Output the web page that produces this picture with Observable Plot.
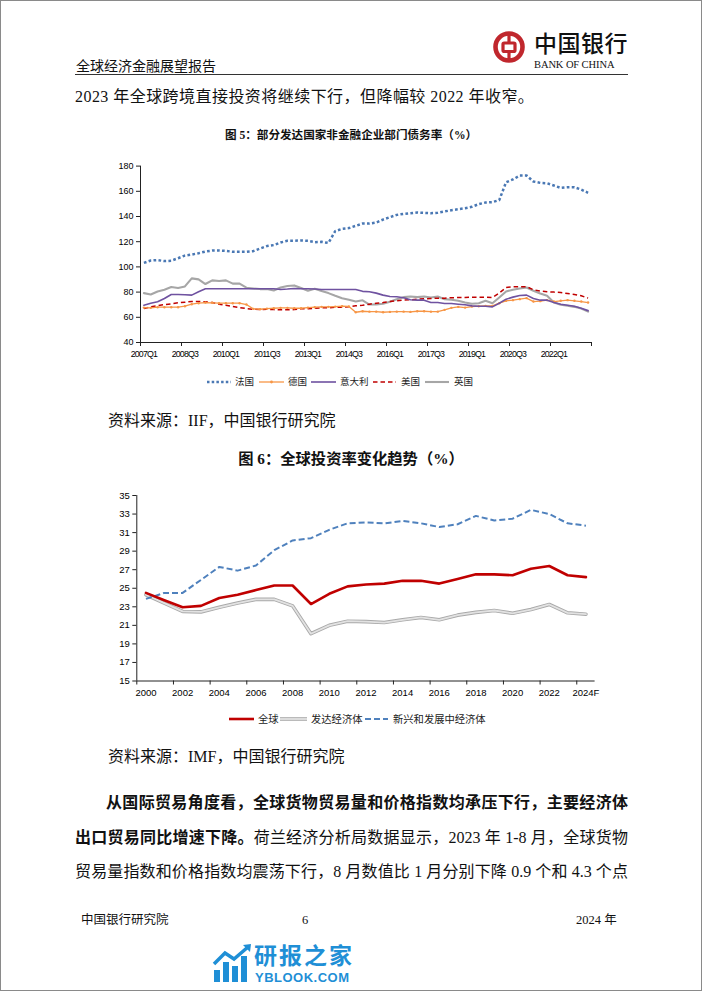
<!DOCTYPE html>
<html><head><meta charset="utf-8">
<script src="https://cdn.jsdelivr.net/npm/d3@7"></script>
<script src="https://cdn.jsdelivr.net/npm/@observablehq/plot@0.6"></script>
<style>
body{margin:0;background:#fff;}
#page{position:relative;width:702px;height:991px;overflow:hidden;background:#fff;font-family:"Liberation Serif","Noto Sans CJK SC",serif;color:#111;}
#frame{position:absolute;left:0;top:0;width:700px;height:989px;border:1px solid #8a8a8a;pointer-events:none;}
.t{position:absolute;white-space:nowrap;line-height:1;}
.just{position:absolute;white-space:nowrap;line-height:1;text-align:justify;text-align-last:justify;}
.chart{position:absolute;}
.leg{position:absolute;left:0;}
</style></head>
<body><div id="page">
<div class="t" style="left:76px;top:60px;font-size:14px;">全球经济金融展望报告</div>
<div style="position:absolute;left:75px;top:73.5px;width:553px;height:1.5px;background:#333;"></div>
<svg class="t" style="left:491px;top:29px;" width="36" height="36" viewBox="0 0 36 36">
  <circle cx="18" cy="18" r="13.5" fill="none" stroke="#c0272d" stroke-width="4.6"/>
  <rect x="12" y="14" width="12" height="8.5" rx="1.2" fill="none" stroke="#c0272d" stroke-width="3.2"/>
  <line x1="18" y1="4" x2="18" y2="14" stroke="#c0272d" stroke-width="3.2"/>
  <line x1="18" y1="22.5" x2="18" y2="32" stroke="#c0272d" stroke-width="3.2"/>
</svg>
<div class="t" style="left:534px;top:31px;font-size:23px;font-family:'Noto Sans CJK SC';font-weight:500;color:#111;letter-spacing:0.5px;">中国银行</div>
<div class="t" style="left:534px;top:60px;font-size:10.5px;letter-spacing:-0.1px;">BANK OF CHINA</div>
<div class="t" style="left:75px;top:89px;font-size:16px;letter-spacing:0.45px;">2023 年全球跨境直接投资将继续下行，但降幅较 2022 年收窄。</div>
<div class="t" id="title1" style="left:0;width:702px;text-align:center;top:130px;font-size:11.6px;font-weight:bold;">图 5：部分发达国家非金融企业部门债务率（%）</div>
<div class="chart" id="c1" style="left:100px;top:155px;"></div>
<svg class="leg" id="leg1" style="top:372px;" width="702" height="20"></svg>
<div class="t" style="left:108px;top:413px;font-size:16px;">资料来源：IIF，中国银行研究院</div>
<div class="t" style="left:0;width:702px;text-align:center;top:451px;font-size:15.3px;font-weight:bold;">图 6：全球投资率变化趋势（%）</div>
<div class="chart" id="c2" style="left:100px;top:485px;"></div>
<svg class="leg" id="leg2" style="top:709px;" width="702" height="20"></svg>
<div class="t" style="left:108px;top:749px;font-size:16px;">资料来源：IMF，中国银行研究院</div>
<div class="just" style="left:106px;width:522px;top:795px;font-size:16px;font-weight:bold;">从国际贸易角度看，全球货物贸易量和价格指数均承压下行，主要经济体</div>
<div class="just" style="left:75px;width:553px;top:830px;font-size:16px;"><b>出口贸易同比增速下降。</b>荷兰经济分析局数据显示，2023 年 1-8 月，全球货物</div>
<div class="just" style="left:75px;width:553px;top:864px;font-size:16px;">贸易量指数和价格指数均震荡下行，8 月数值比 1 月分别下降 0.9 个和 4.3 个点</div>
<div class="t" style="left:81px;top:914px;font-size:12.5px;">中国银行研究院</div>
<div class="t" style="left:302px;top:914px;font-size:12.5px;">6</div>
<div class="t" style="left:576px;top:914px;font-size:12.5px;">2024 年</div>
<svg class="t" style="left:212px;top:944px;" width="42" height="40" viewBox="0 0 42 40">
  <g fill="#1f8fd6">
    <rect x="2" y="26" width="6" height="12"/>
    <rect x="11" y="18" width="6" height="20"/>
    <rect x="20" y="22" width="6" height="16"/>
    <rect x="29" y="12" width="6" height="26"/>
  </g>
  <polyline points="2,20 13,9 22,15 36,3" fill="none" stroke="#1f8fd6" stroke-width="3.5"/>
  <polygon points="31,1 39,0 38,8" fill="#1f8fd6"/>
</svg>
<div class="t" style="left:254px;top:943px;font-size:23px;font-weight:bold;color:#1f8fd6;font-family:'Noto Sans CJK SC';letter-spacing:2px;">研报之家</div>
<div class="t" style="left:255px;top:971px;font-size:13px;font-weight:bold;color:#1f8fd6;font-family:'Liberation Sans';letter-spacing:0.5px;">YBLOOK.COM</div>
<div id="frame"></div>
</div>
<script>
// ---------- Chart 1 data: 2007Q1 .. 2023Q2 ----------
const quarters = [];
for (let y = 2007; y <= 2023; y++) for (let q = 1; q <= 4; q++) if (quarters.length < 66) quarters.push(y + "Q" + q);
const xTickLabels1 = ["2007Q1","2008Q3","2010Q1","2011Q3","2013Q1","2014Q3","2016Q1","2017Q3","2019Q1","2020Q3","2022Q1"];
const yTicks1 = [40,60,80,100,120,140,160,180];
const seriesNames1 = ["法国","德国","意大利","美国","英国"];
const france = [103.2,105.1,105.4,104.6,104.9,106.9,109,109.8,110.9,112.2,
  113,113,112.7,112,112,112,112.5,114.6,116.5,117.3,
  119.4,120.7,120.7,121,120.7,119.6,119.9,119,128.4,130.2,
  130.8,132.6,134.4,134.4,135.2,137.6,139.5,141.3,142.1,142.6,
  143.2,142.9,142.6,142.9,144,145,145.8,146.6,147.7,149.8,
  151.1,151.4,153,167.2,169.4,172.5,172.5,167.8,166.7,166.4,
  164.6,162.7,163.2,163.2,161.4,158.8];
const germany = [67.7,67.5,68,68,68,68,68.8,70.4,71.2,71.7,
  71.5,71.2,71.2,71.2,71.2,70.1,66.7,66.4,66.9,67.2,
  67.5,67.5,67.2,67.2,67.7,68,68.3,68.3,68.5,68.8,
  68.6,64,64.8,64.5,64.5,64,64.3,64.5,64.5,64.3,
  64.8,64.8,64.5,64.5,65.9,67.5,68.3,67.7,68.5,68.8,
  69.1,69.1,71.2,73.1,73.6,74.4,75.2,72.5,72.8,73.6,
  72.5,73.1,73.6,73.1,72.5,71.7];
const italy = [69.6,71.2,72.3,74.9,78.1,78.1,77.9,77.6,80.3,82.7,
  82.7,82.7,82.7,82.7,82.7,82.7,82.7,82.7,82.7,82.7,
  82.1,82.4,82.9,82.7,82.7,82.4,82.1,82.1,82.1,82.1,
  82.1,82.1,80.6,80.3,79.2,77.6,76.5,76.3,75.5,73.9,
  73.6,73.6,71.7,71.7,70.9,70.9,70.4,69.9,69.1,68.8,
  68.8,68.3,71.2,74.4,76,77.3,77.6,74.9,73.6,73.6,
  71.7,70.4,69.6,68.8,67.2,65.3];
const usa = [66.9,68.3,69.3,70.1,70.7,71.5,72,72.5,72.5,72.3,
  71.7,70.4,69.6,68.5,67.7,66.9,66.4,66.1,66.4,66.1,
  65.9,65.9,66.1,66.7,66.7,67.2,67.5,67.5,68,68,
  68.3,69.1,69.6,70.4,71.2,71.7,72.5,73.1,73.6,73.9,
  74.4,74.7,74.9,75.2,75.2,75.5,75.7,75.7,76,76,
  76,75.7,79.2,83.7,84.3,84.3,84.3,81.9,80.8,80.3,
  80,79.7,78.9,78.1,77.1,75.2];
const uk = [79.2,78.1,80.5,81.9,84,83.2,84.5,90.9,90.1,86.4,
  89.3,88.8,89.3,86.7,86.7,83.5,82.9,82.4,82.4,81.3,
  83.7,84.8,85.3,83.2,81.1,82.7,80.8,79.2,77.1,75.2,
  73.9,72.5,73.5,70.1,70.1,70.7,72.3,74.4,76,76.5,
  76,76.5,75.7,76.5,74.4,73.9,73.1,71.7,70.7,71.2,
  73.1,71.2,75.7,80.5,81.9,82.9,83.7,81.1,78.9,77.1,
  71.7,69.9,69.1,68.3,66.9,64.5];

// ---------- Chart 2 data: 2000 .. 2024F ----------
const years = ["2000","2001","2002","2003","2004","2005","2006","2007","2008","2009","2010","2011","2012",
  "2013","2014","2015","2016","2017","2018","2019","2020","2021","2022","2023","2024F"];
const yTicks2 = [15,17,19,21,23,25,27,29,31,33,35];
const seriesNames2 = ["全球","发达经济体","新兴和发展中经济体"];
const globalRate = [24.5,23.7,22.95,23.1,23.95,24.3,24.8,25.3,25.3,23.3,24.4,25.2,25.4,25.5,25.8,25.8,25.5,26.0,26.5,26.5,26.4,27.1,27.4,26.4,26.2];
const advancedRate = [24.3,23.4,22.5,22.45,22.95,23.4,23.8,23.8,23.1,20.1,21.0,21.45,21.4,21.3,21.6,21.85,21.6,22.1,22.4,22.6,22.3,22.7,23.25,22.35,22.2];
const emergingRate = [23.85,24.5,24.5,25.9,27.3,26.9,27.45,29.1,30.15,30.4,31.3,32.0,32.1,32.0,32.25,32.0,31.6,31.9,32.8,32.3,32.5,33.45,33.0,32.0,31.75];

const C = {fr:"#4a78b4", de:"#f79646", it:"#6f52a0", us:"#c00000", uk:"#a6a6a6",
  gl:"#c00000", adv:"#b3b3b3", em:"#4f81bd"};

// ---------- Chart 1 ----------
const xTickPos1 = d3.range(0, 12).map(k => -0.5 + 6 * k);
const xLabelPos1 = xTickLabels1.map(l => quarters.indexOf(l));
const idx = (d, i) => i;
const num = d => d;
const chart1 = Plot.plot({
  width: 510, height: 215,
  marginLeft: 40, marginRight: 19, marginTop: 10.6, marginBottom: 28,
  style: {fontFamily: "'Liberation Sans', Arial, sans-serif", fontSize: "9px", color: "#000", background: "transparent", overflow: "visible"},
  x: {domain: [-0.5, 65.5], axis: null},
  y: {domain: [40, 180], axis: null},
  marks: [
    Plot.axisY({ticks: yTicks1, tickSize: 4, tickPadding: 3, tickFormat: d => String(d), stroke: "#222", fontSize: 9}),
    Plot.axisX({ticks: xTickPos1, tickSize: 4, tickFormat: () => "", stroke: "#222"}),
    Plot.axisX({ticks: xLabelPos1, tickSize: 0, tickPadding: 8, tickFormat: i => quarters[i], fontSize: 8.8}),
    Plot.ruleX([-0.5], {stroke: "#222"}),
    Plot.ruleY([40], {stroke: "#222"}),
    Plot.line(uk, {x: idx, y: num, stroke: C.uk, strokeWidth: 2.1}),
    Plot.line(usa, {x: idx, y: num, stroke: C.us, strokeWidth: 1.5, strokeDasharray: "4.5,3", strokeLinecap: "butt"}),
    Plot.line(germany, {x: idx, y: num, stroke: C.de, strokeWidth: 1.3}),
    Plot.dot(germany, {x: idx, y: num, r: 1.2, fill: C.de, stroke: null}),
    Plot.line(italy, {x: idx, y: num, stroke: C.it, strokeWidth: 1.6}),
    Plot.line(france, {x: idx, y: num, stroke: C.fr, strokeWidth: 2.5, strokeDasharray: "2.7,2.3", strokeLinecap: "butt"})
  ]
});
d3.select(chart1).selectAll('g[aria-label="x-axis tick label"] text').style("letter-spacing", "-0.8px");
document.getElementById("c1").appendChild(chart1);

// ---------- Chart 2 ----------
const xTickPos2 = d3.range(0, 13).map(k => -0.5 + 2 * k);
const xLabelPos2 = d3.range(0, 25, 2);
const chart2 = Plot.plot({
  width: 510, height: 215,
  marginLeft: 36.3, marginRight: 15.4, marginTop: 10, marginBottom: 19.5,
  style: {fontFamily: "'Liberation Sans', Arial, sans-serif", fontSize: "9.5px", color: "#000", background: "transparent", overflow: "visible"},
  x: {domain: [-0.5, 24.5], axis: null},
  y: {domain: [15, 35], axis: null},
  marks: [
    Plot.axisY({ticks: yTicks2, tickSize: 4, tickPadding: 3, tickFormat: d => String(d), stroke: "#222", fontSize: 9.5}),
    Plot.axisX({ticks: xTickPos2, tickSize: 4, tickFormat: () => "", stroke: "#222"}),
    Plot.axisX({ticks: xLabelPos2, tickSize: 0, tickPadding: 8, tickFormat: i => years[i], fontSize: 9.5}),
    Plot.ruleX([-0.5], {stroke: "#222"}),
    Plot.ruleY([15], {stroke: "#222"}),
    Plot.line(advancedRate, {x: idx, y: num, stroke: "#a9a9a9", strokeWidth: 3.6}),
    Plot.line(advancedRate, {x: idx, y: num, stroke: "#e2e2e2", strokeWidth: 1.8}),
    Plot.line(emergingRate, {x: idx, y: num, stroke: C.em, strokeWidth: 2, strokeDasharray: "6,3", strokeLinecap: "butt"}),
    Plot.line(globalRate, {x: idx, y: num, stroke: C.gl, strokeWidth: 2.6})
  ]
});
document.getElementById("c2").appendChild(chart2);

// ---------- Legends ----------
function drawLegend(id, items, fontSize) {
  const svg = d3.select("#" + id);
  const cy = 10;
  items.forEach(it => {
    if (it.double) {
      svg.append("line").attr("x1", it.x0).attr("x2", it.x1).attr("y1", cy).attr("y2", cy)
        .attr("stroke", "#a9a9a9").attr("stroke-width", 3.6);
      svg.append("line").attr("x1", it.x0).attr("x2", it.x1).attr("y1", cy).attr("y2", cy)
        .attr("stroke", "#e2e2e2").attr("stroke-width", 1.8);
    } else {
      svg.append("line").attr("x1", it.x0).attr("x2", it.x1).attr("y1", cy).attr("y2", cy)
        .attr("stroke", it.color).attr("stroke-width", it.w).attr("stroke-dasharray", it.dash || null);
    }
    if (it.dot) svg.append("circle").attr("cx", (it.x0 + it.x1) / 2).attr("cy", cy).attr("r", 1.4).attr("fill", it.color);
    svg.append("text").attr("x", it.lx).attr("y", cy).attr("dy", "0.35em")
      .attr("font-size", fontSize).attr("font-family", "'Noto Sans CJK SC'").attr("fill", "#222").text(it.label);
  });
}
drawLegend("leg1", [
  {x0: 207, x1: 231, lx: 235, label: seriesNames1[0], color: C.fr, w: 2.4, dash: "2.5,2.2"},
  {x0: 259, x1: 284, lx: 288, label: seriesNames1[1], color: C.de, w: 1.3, dot: true},
  {x0: 311, x1: 336, lx: 340, label: seriesNames1[2], color: C.it, w: 1.6},
  {x0: 373, x1: 396, lx: 401, label: seriesNames1[3], color: C.us, w: 1.5, dash: "4.5,3"},
  {x0: 425, x1: 449, lx: 454, label: seriesNames1[4], color: C.uk, w: 2.1}
], 9.5);
drawLegend("leg2", [
  {x0: 229, x1: 254, lx: 258, label: seriesNames2[0], color: C.gl, w: 2.6},
  {x0: 280, x1: 307, lx: 311, label: seriesNames2[1], double: true},
  {x0: 365, x1: 388, lx: 393, label: seriesNames2[2], color: C.em, w: 2, dash: "6,3"}
], 10.3);
</script>
</body></html>
